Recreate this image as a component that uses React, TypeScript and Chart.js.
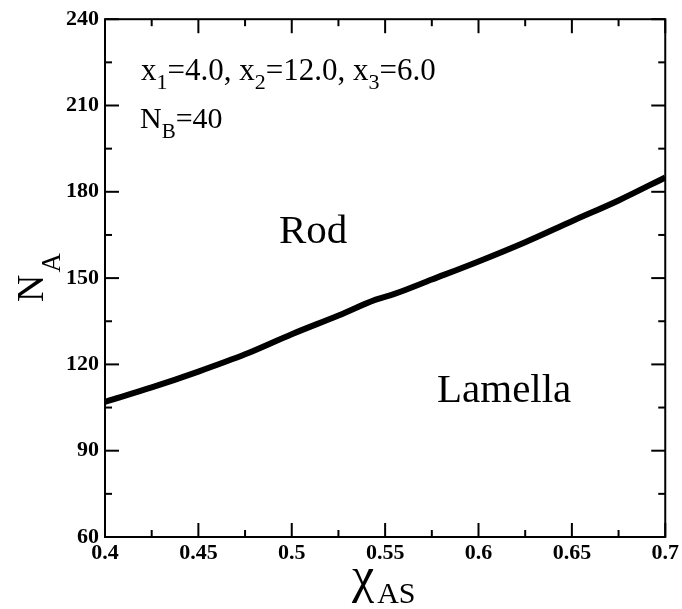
import React, { useEffect, useRef } from "react";
import { Chart, registerables } from "chart.js";

Chart.register(...registerables);

const chiAS = [0.4, 0.425, 0.45, 0.475, 0.5, 0.525, 0.545, 0.555, 0.575, 0.6, 0.625, 0.65, 0.675, 0.7];
const nA = [107, 112, 117.5, 123.5, 130.5, 137, 142.5, 144.5, 149.5, 155.8, 162.5, 169.8, 177, 185];

const xMajorTicks = [0.4, 0.45, 0.5, 0.55, 0.6, 0.65, 0.7];
const xMinorTicks = [0.425, 0.475, 0.525, 0.575, 0.625, 0.675];
const yMajorTicks = [60, 90, 120, 150, 180, 210, 240];
const yMinorTicks = [75, 105, 135, 165, 195, 225];

const FONT = "'Liberation Serif', 'DejaVu Serif', serif";

type Seg = { t: string; sub?: boolean };

function drawSegs(ctx: CanvasRenderingContext2D, segs: Seg[], x: number, y: number, size: number, subSize: number, subDrop: number, gap = 0) {
  let cx = x;
  for (const s of segs) {
    ctx.font = `${s.sub ? subSize : size}px ${FONT}`;
    ctx.fillText(s.t, cx, s.sub ? y + subDrop : y);
    cx += ctx.measureText(s.t).width + (s.sub ? 0 : gap);
  }
}

const framePlugin = {
  id: "frame",
  afterDraw(chart: any) {
    const { ctx, chartArea, scales } = chart;
    const { left, right, top, bottom } = chartArea;
    const xs = scales.x;
    const ys = scales.y;
    ctx.save();
    ctx.strokeStyle = "#000";
    ctx.lineWidth = 2;
    ctx.strokeRect(left, top, right - left, bottom - top);
    const tick = (x1: number, y1: number, x2: number, y2: number) => {
      ctx.beginPath();
      ctx.moveTo(x1, y1);
      ctx.lineTo(x2, y2);
      ctx.stroke();
    };
    const MAJ = 14, MIN = 7;
    xMajorTicks.forEach((v) => {
      const p = xs.getPixelForValue(v);
      tick(p, bottom, p, bottom - MAJ);
      tick(p, top, p, top + MAJ);
    });
    xMinorTicks.forEach((v) => {
      const p = xs.getPixelForValue(v);
      tick(p, bottom, p, bottom - MIN);
      tick(p, top, p, top + MIN);
    });
    yMajorTicks.forEach((v) => {
      const p = ys.getPixelForValue(v);
      tick(left, p, left + MAJ, p);
      tick(right, p, right - MAJ, p);
    });
    yMinorTicks.forEach((v) => {
      const p = ys.getPixelForValue(v);
      tick(left, p, left + MIN, p);
      tick(right, p, right - MIN, p);
    });

    ctx.fillStyle = "#000";
    ctx.textBaseline = "alphabetic";
    ctx.textAlign = "left";
    // annotations
    drawSegs(ctx, [{ t: "x" }, { t: "1", sub: true }, { t: "=4.0, x" }, { t: "2", sub: true }, { t: "=12.0, x" }, { t: "3", sub: true }, { t: "=6.0" }], 141, 80, 31, 22, 9);
    drawSegs(ctx, [{ t: "N" }, { t: "B", sub: true }, { t: "=40" }], 140, 128, 30, 21, 10);
    ctx.font = `41px ${FONT}`;
    ctx.fillText("Rod", 279, 243);
    ctx.fillText("Lamella", 437, 402);

    // x axis title
    drawSegs(ctx, [{ t: "\u03C7" }, { t: "AS", sub: true }], 352, 592, 50, 30, 11, 3);

    // y axis title (rotated)
    ctx.save();
    ctx.translate(43, 302);
    ctx.rotate(-Math.PI / 2);
    drawSegs(ctx, [{ t: "N" }, { t: "A", sub: true }], 0, 0, 38, 27, 17, 2);
    ctx.restore();

    ctx.restore();
  },
};

export default function App() {
  const ref = useRef<HTMLCanvasElement | null>(null);
  useEffect(() => {
    if (!ref.current) return;
    const chart = new Chart(ref.current, {
      type: "line",
      data: {
        datasets: [
          {
            data: chiAS.map((x, i) => ({ x, y: nA[i] })),
            borderColor: "#000",
            borderWidth: 6,
            pointRadius: 0,
            tension: 0.3,
            cubicInterpolationMode: "monotone",
            fill: false,
          },
        ],
      },
      options: {
        animation: false,
        responsive: false,
        maintainAspectRatio: false,
        layout: { padding: { left: 0, top: 15, right: 15, bottom: 0 } },
        plugins: { legend: { display: false }, tooltip: { enabled: false } },
        scales: {
          x: {
            type: "linear",
            min: 0.4,
            max: 0.7,
            afterFit: (s: any) => {
              s.height = 72;
            },
            afterBuildTicks: (s: any) => {
              s.ticks = xMajorTicks.map((v) => ({ value: v }));
            },
            grid: { display: false, drawTicks: false },
            border: { display: false },
            ticks: {
              padding: 3,
              color: "#000",
              font: { family: FONT, size: 22, weight: "bold" },
              callback: (v: any) => String(Number(Number(v).toFixed(3))),
            },
          },
          y: {
            type: "linear",
            min: 60,
            max: 240,
            afterFit: (s: any) => {
              s.width = 105;
            },
            afterBuildTicks: (s: any) => {
              s.ticks = yMajorTicks.map((v) => ({ value: v }));
            },
            grid: { display: false, drawTicks: false },
            border: { display: false },
            ticks: {
              padding: 6,
              color: "#000",
              font: { family: FONT, size: 22, weight: "bold" },
              callback: (v: any) => String(v),
            },
          },
        },
      },
      plugins: [framePlugin],
    } as any);
    return () => chart.destroy();
  }, []);
  return (
    <div style={{ position: "absolute", left: 0, top: 0, width: 682, height: 609, background: "#fff" }}>
      <canvas ref={ref} width={682} height={609} style={{ display: "block", width: 682, height: 609 }} />
    </div>
  );
}
